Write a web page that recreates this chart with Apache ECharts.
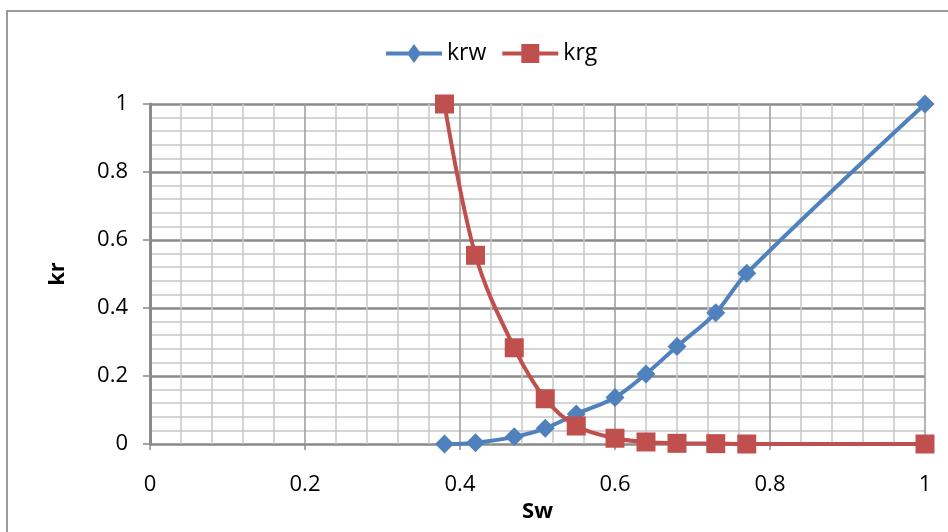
<!DOCTYPE html>
<html>
<head>
<meta charset="utf-8">
<script src="https://cdn.jsdelivr.net/npm/echarts@6/dist/echarts.min.js"></script>
<style>
html,body{margin:0;padding:0;background:#fff;}
#chart{width:948px;height:532px;}
</style>
</head>
<body>
<div id="chart"></div>
<script>
const sw = [0.38, 0.42, 0.47, 0.51, 0.55, 0.60, 0.64, 0.68, 0.73, 0.77, 1.0];
const krw = [0.0, 0.004, 0.021, 0.046, 0.088, 0.137, 0.206, 0.287, 0.386, 0.502, 1.0];
const krg = [1.0, 0.555, 0.283, 0.133, 0.053, 0.017, 0.006, 0.002, 0.001, 0.0, 0.0];
const seriesNames = ['krw', 'krg'];
const xTitle = 'Sw';
const yTitle = 'kr';

const FONT = "'Open Sans', sans-serif";
const BLUE = '#4F81BD', RED = '#C0504D';
const chart = echarts.init(document.getElementById('chart'), null, {renderer: 'canvas'});
const pairs = (ys) => sw.map((x, i) => [x, ys[i]]);

const ICON_DIAMOND = 'path://M0,7.5 L56,7.5 L56,11.5 L0,11.5 Z M28,0 L35,9.5 L28,19 L21,9.5 Z';
const ICON_SQUARE = 'path://M0,7.5 L56,7.5 L56,11.5 L0,11.5 Z M19,0 L37,0 L37,19 L19,19 Z';

chart.setOption({
  animation: false,
  backgroundColor: '#fff',
  textStyle: {fontFamily: FONT},
  graphic: [{
    type: 'rect',
    shape: {x: 7, y: 11, width: 960, height: 540},
    style: {fill: 'none', stroke: '#9a9a9a', lineWidth: 2},
    silent: true
  }],
  legend: {
    top: 37,
    left: 381,
    itemWidth: 56,
    itemHeight: 19,
    itemGap: 16,
    textStyle: {fontFamily: FONT, fontSize: 23, color: '#000'},
    data: [
      {name: seriesNames[0], icon: ICON_DIAMOND},
      {name: seriesNames[1], icon: ICON_SQUARE}
    ]
  },
  grid: {left: 150, right: 23, top: 104, bottom: 88, containLabel: false},
  xAxis: {
    type: 'value', min: 0, max: 1, interval: 0.2,
    name: xTitle, nameLocation: 'middle', nameGap: 55,
    nameTextStyle: {fontFamily: FONT, fontSize: 22, fontWeight: 'bold', color: '#000'},
    axisLine: {show: false},
    axisTick: {show: true, length: 6, inside: false, lineStyle: {color: '#8a8a8a', width: 1.5}},
    axisLabel: {fontFamily: FONT, fontSize: 22, color: '#000', margin: 30},
    splitLine: {show: true, lineStyle: {color: '#9a9a9a', width: 1.5}},
    minorTick: {show: false, splitNumber: 5},
    minorSplitLine: {show: true, lineStyle: {color: '#c8c8c8', width: 1.5}}
  },
  yAxis: {
    type: 'value', min: 0, max: 1, interval: 0.2,
    name: yTitle, nameLocation: 'middle', nameGap: 81, nameRotate: 90,
    nameTextStyle: {fontFamily: FONT, fontSize: 22, fontWeight: 'bold', color: '#000'},
    axisLine: {show: true, onZero: false, lineStyle: {color: '#8a8a8a', width: 3}},
    axisTick: {show: true, length: 7, lineStyle: {color: '#8a8a8a', width: 1.5}},
    axisLabel: {fontFamily: FONT, fontSize: 22, color: '#000', margin: 22},
    splitLine: {show: true, lineStyle: {color: '#8a8a8a', width: 2.5}},
    minorTick: {show: false, splitNumber: 5},
    minorSplitLine: {show: true, lineStyle: {color: '#c8c8c8', width: 1.5}}
  },
  series: [
    {
      name: seriesNames[0], type: 'line', data: pairs(krw), smooth: 0.35,
      symbol: 'diamond', symbolSize: 19,
      lineStyle: {color: BLUE, width: 4},
      itemStyle: {color: BLUE},
      z: 3
    },
    {
      name: seriesNames[1], type: 'line', data: pairs(krg), smooth: 0.35,
      symbol: 'rect', symbolSize: 19,
      lineStyle: {color: RED, width: 4},
      itemStyle: {color: RED},
      z: 4
    }
  ]
});
</script>
</body>
</html>
